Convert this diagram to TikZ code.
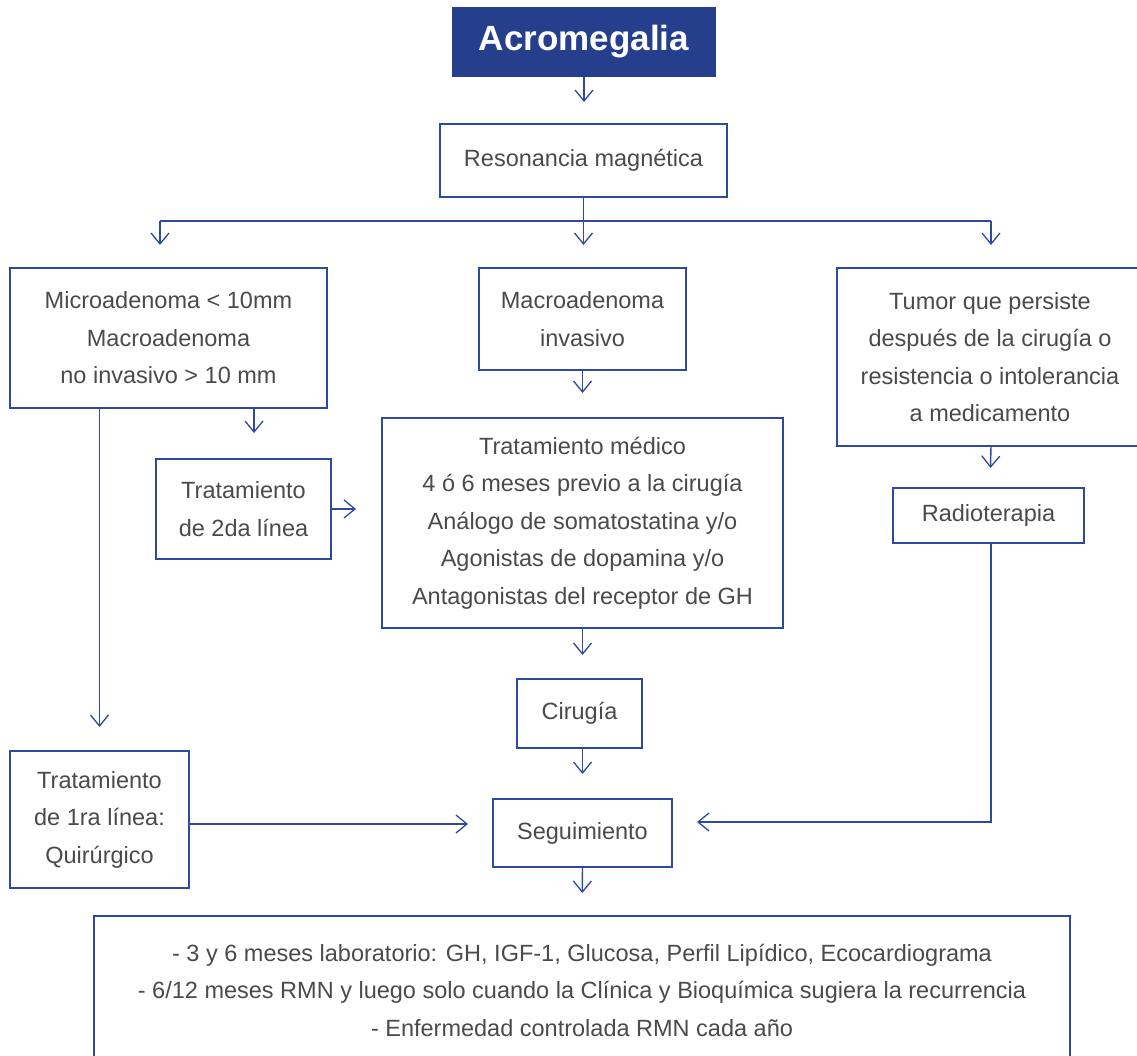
\documentclass[tikz,border=0pt]{standalone}
\usepackage{fontspec}
\setmainfont{Liberation Sans}
\usetikzlibrary{arrows.meta}
\definecolor{navy}{HTML}{263F8C}
\definecolor{edge}{HTML}{2E4A9E}
\definecolor{ink}{HTML}{4A4A4A}
\begin{document}
\begin{tikzpicture}[x=1pt,y=-1pt,
  every node/.style={inner sep=0pt, outer sep=0pt},
  box/.style={draw=edge, line width=1.4pt, rectangle, align=center,
    text=ink, font=\fontsize{23.5}{37.5}\selectfont},
  titlebox/.style={fill=navy, rectangle, text=white,
    font=\bfseries\fontsize{35}{40}\selectfont},
  link/.style={draw=edge, line width=1.4pt},
  arr/.style={link, -{Straight Barb[length=11pt,width=18pt,line width=1.3pt]}}]
\useasboundingbox (0,0) rectangle (1137,1056);
\clip (0,0) rectangle (1137,1056);

% boxes
\node[titlebox, minimum width=264, minimum height=70] (title) at (584,42) {Acromegalia};
\node[box, minimum width=287, minimum height=73] (res) at (583.5,160.5) {Resonancia magnética};
\node[box, minimum width=317, minimum height=140] (micro) at (168.5,338)
  {Microadenoma < 10mm\\Macroadenoma\\no invasivo > 10 mm};
\node[box, minimum width=207, minimum height=102] (macro) at (582.5,319)
  {Macroadenoma\\invasivo};
\node[box, minimum width=306, minimum height=178] (tumor) at (990,357)
  {Tumor que persiste\\después de la cirugía o\\resistencia o intolerancia\\a medicamento};
\node[box, minimum width=175, minimum height=100] (trat2) at (243.5,509)
  {Tratamiento\\de 2da línea};
\node[box, minimum width=401, minimum height=210] (med) at (582.5,523)
  {Tratamiento médico\\4 ó 6 meses previo a la cirugía\\Análogo de somatostatina y/o\\
   Agonistas de dopamina y/o\\Antagonistas del receptor de GH};
\node[box, minimum width=191, minimum height=55] (rad) at (988.5,515.5) {Radioterapia};
\node[box, minimum width=125, minimum height=69] (cir) at (579.5,713.5) {Cirugía};
\node[box, minimum width=179, minimum height=68] (seg) at (582.5,833) {Seguimiento};
\node[box, minimum width=179, minimum height=137] (trat1) at (99.5,819.5)
  {Tratamiento\\de 1ra línea:\\Quirúrgico};
\node[box, minimum width=976, minimum height=148] (plan) at (582,990)
  {- 3 y 6 meses laboratorio: GH, IGF-1, Glucosa, Perfil Lipídico, Ecocardiograma\\
   - 6/12 meses RMN y luego solo cuando la Clínica y Bioquímica sugiera la recurrencia\\
   - Enfermedad controlada RMN cada año};

% connectors
\draw[arr, shorten >=22pt] (title.south) -- (title.south |- res.north);

\coordinate (bl) at (160,221);
\coordinate (br) at (991,221);
\draw[link] (res.south) -- (res.south |- bl);
\draw[link] (bl) -- (br);
\draw[arr, shorten >=23pt] (bl) -- (bl |- micro.north);
\draw[arr, shorten >=23pt] (res.south |- bl) -- (res.south |- macro.north);
\draw[arr, shorten >=23pt] (br) -- (br |- tumor.north);

\draw[arr, shorten >=26pt] ([xshift=85.5pt]micro.south) -- ([xshift=10.5pt]trat2.north);
\draw[arr, shorten >=24pt] ([xshift=-69pt]micro.south) -- (trat1.north);
\draw[arr, shorten >=26pt] (trat2.east) -- (trat2.east -| med.west);
\draw[arr, shorten >=25pt] (macro.south) -- (macro.south |- med.north);
\draw[arr, shorten >=20pt] ([xshift=1pt]tumor.south) -- ([xshift=1.5pt]rad.north);
\draw[arr, shorten >=24pt] (med.south) -- (med.south |- cir.north);
\draw[arr, shorten >=25pt] (cir.south -| seg.south) -- (seg.north);
\draw[arr, shorten >=25pt] ([yshift=-4.5pt]trat1.east) -- ([yshift=-4.5pt]trat1.east -| seg.west);
\draw[arr, shorten >=25pt] ([xshift=2.5pt]rad.south) |- ([yshift=11pt]seg.east);
\draw[arr, shorten >=23pt] (seg.south) -- (plan.north);
\end{tikzpicture}
\end{document}
